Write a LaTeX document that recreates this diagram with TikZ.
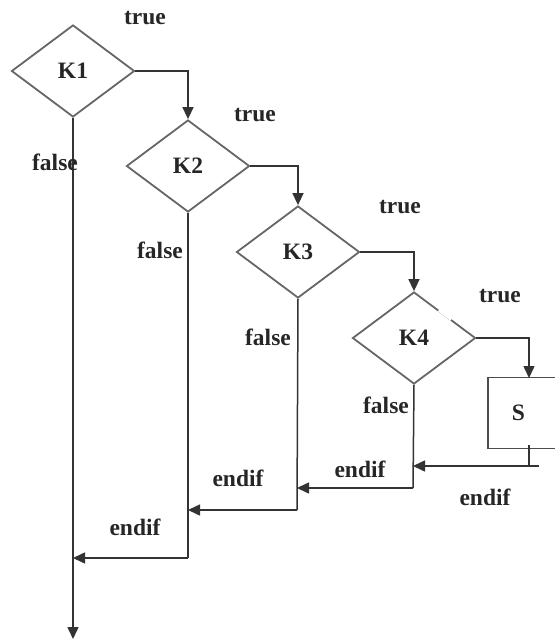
\documentclass[tikz,border=0pt]{standalone}
\usepackage{fontspec}
\setmainfont{Liberation Serif}
\usetikzlibrary{shapes.geometric,arrows.meta,calc}
\begin{document}
\begin{tikzpicture}[x=1pt,y=-1pt,
  every node/.style={font=\fontsize{23.5}{26}\selectfont\bfseries, text=black!85},
  cond/.style={diamond, draw=black!60, line width=1.8pt, minimum width=123pt, minimum height=92pt, inner sep=0pt},
  sbox/.style={draw=black!70, line width=1.8pt, anchor=west, minimum height=71pt, text width=42pt, inner xsep=24pt, align=left},
  conn/.style={draw=black!80, line width=1.5pt},
  arr/.style={conn, -{Triangle[length=12pt,width=11pt]}},
  lbl/.style={inner sep=0pt}]
\useasboundingbox (0,0) rectangle (555,641);
\node[cond] (K1) at (73,71) {K1};
\node[cond] (K2) at (188,166) {K2};
\node[cond] (K3) at (298,252) {K3};
\node[cond] (K4) at (414,338) {K4};
\draw[white, line width=3.5pt] ($(K4.north)!0.4!(K4.east)$) -- ($(K4.north)!0.6!(K4.east)$);
\node[sbox] (S) at (487,413) {S};
% true branches
\draw[arr] (K1.east) -| (K2.north);
\draw[arr] (K2.east) -| (K3.north);
\draw[arr] (K3.east) -| (K4.north);
\coordinate (Sin) at (529,378);
\draw[arr] (K4.east) -| (Sin);
% join points
\coordinate (J1) at (73,558);
\coordinate (J2) at (188,510);
\coordinate (J3) at (297,488);
\coordinate (J4) at (413,466);
\coordinate (Send) at (73,639);
\coordinate (Sout) at (529,445);
\coordinate (Sj) at (529,466);
\coordinate (Sr) at (539,466);
% false branches
\draw[arr] (K1.south) -- (Send);
\draw[conn] (K2.south) -- (188,558);
\draw[arr] (188,558) -- (J1);
\draw[conn] (K3.south) -- (297,510);
\draw[arr] (297,510) -- (J2);
\draw[conn] (K4.south) -- (413,488);
\draw[arr] (413,488) -- (J3);
\draw[conn] (Sout) -- (Sj);
\draw[arr] (Sr) -- (J4);
% labels
\node[lbl] (t1) at (145,18) {true};
\node[lbl] (t2) at (255,115) {true};
\node[lbl] (t3) at (400,207) {true};
\node[lbl] (t4) at (500,296) {true};
\node[lbl] (f1) at (55,162) {false};
\node[lbl] (f2) at (160,250) {false};
\node[lbl] (f3) at (268,337) {false};
\node[lbl] (f4) at (386,405) {false};
\node[lbl] (e1) at (238,478) {endif};
\node[lbl] (e2) at (360,469) {endif};
\node[lbl] (e3) at (485,497) {endif};
\node[lbl] (e4) at (135,527) {endif};
\end{tikzpicture}
\end{document}
